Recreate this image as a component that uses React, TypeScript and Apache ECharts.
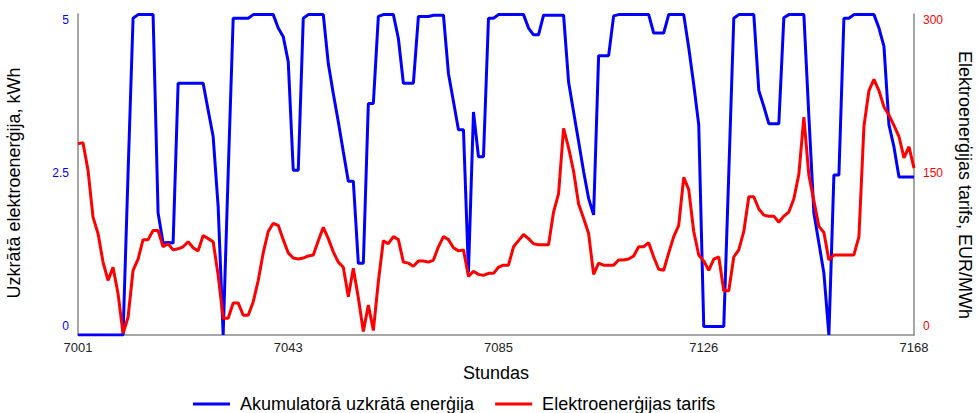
import React, { useEffect, useRef } from "react";
import * as echarts from "echarts";

const startHour = 7001;
const endHour = 7168;
const xTickValues = [7001, 7043, 7085, 7126, 7168];
const leftTickValues = [0, 2.5, 5];
const rightTickValues = [0, 150, 300];

const seriesNames = ["Akumulatorā uzkrātā enerģija", "Elektroenerģijas tarifs"];
const leftTitle = "Uzkrātā elektroenerģija, kWh";
const rightTitle = "Elektroenerģijas tarifs, EUR/MWh";
const xTitle = "Stundas";

// Stored battery energy, kWh (hours 7001..7168)
const storedEnergy = [
  -0.14, -0.14, -0.14, -0.14, -0.14, -0.14, -0.14, -0.14, -0.14, -0.14, 2.5, 5.03,
  5.09, 5.09, 5.09, 5.09, 1.85, 1.36, 1.37, 1.36, 3.97, 3.97, 3.97, 3.97,
  3.97, 3.97, 3.53, 3.1, 1.95, -0.14, 2.5, 5.03, 5.03, 5.03, 5.03, 5.09,
  5.09, 5.09, 5.09, 5.09, 4.87, 4.73, 4.32, 2.55, 2.55, 5.03, 5.09, 5.09,
  5.09, 5.09, 4.29, 3.8, 3.34, 2.85, 2.37, 2.37, 1.03, 1.03, 3.64, 3.64,
  5.06, 5.09, 5.09, 5.09, 4.7, 3.97, 3.97, 3.97, 5.06, 5.06, 5.06, 5.08,
  5.08, 5.08, 4.13, 3.67, 3.21, 3.21, 0.89, 3.5, 2.77, 2.77, 5.03, 5.03,
  5.09, 5.09, 5.09, 5.09, 5.09, 5.09, 4.87, 4.76, 4.76, 5.08, 5.08, 5.08,
  5.08, 5.08, 3.99, 3.5, 3.02, 2.53, 2.09, 1.82, 4.42, 4.42, 4.42, 5.07,
  5.09, 5.09, 5.09, 5.09, 5.09, 5.09, 5.09, 4.79, 4.79, 4.79, 5.09, 5.09,
  5.09, 5.09, 4.55, 3.95, 3.29, 0, 0, 0, 0, 0, 2.5, 5.03,
  5.09, 5.09, 5.09, 5.09, 3.85, 3.59, 3.31, 3.31, 3.31, 5.04, 5.09, 5.09,
  5.09, 5.09, 3.43, 1.85, 1.36, 0.87, -0.14, 2.47, 2.47, 5.03, 5.03, 5.09,
  5.09, 5.09, 5.09, 5.09, 4.87, 4.57, 3.29, 2.93, 2.44, 2.44, 2.44, 2.44,
];

// Electricity tariff, EUR/MWh
const tariff = [
  179, 180, 153, 107, 91, 63, 45, 58, 32, -7, 9, 55,
  66, 85, 85, 94, 94, 78, 81, 75, 76, 78, 83, 77,
  74, 89, 86, 83, 50, 8, 8, 23, 23, 11, 11, 24,
  45, 72, 93, 101, 99, 85, 72, 67, 66, 67, 69, 70,
  84, 97, 86, 73, 63, 58, 29, 57, 28, -5, 21, -4,
  44, 84, 81, 88, 85, 63, 62, 59, 64, 64, 63, 65,
  78, 88, 85, 77, 74, 75, 49, 54, 51, 50, 52, 52,
  58, 60, 60, 78, 84, 90, 86, 81, 80, 80, 80, 112,
  130, 194, 175, 152, 120, 106, 91, 51, 62, 60, 60, 60,
  65, 65, 66, 69, 78, 78, 82, 68, 56, 55, 72, 88,
  99, 146, 134, 93, 70, 64, 55, 66, 68, 35, 35, 68,
  75, 93, 127, 127, 115, 109, 108, 108, 102, 108, 112, 125,
  149, 205, 148, 123, 98, 92, 65, 70, 70, 70, 70, 70,
  88, 196, 231, 242, 231, 215, 207, 197, 186, 165, 176, 155,
];

const FONT = "'Liberation Sans', Arial, Helvetica, sans-serif";
const AXIS_GRAY = "#8a8a8a";

export default function App() {
  const ref = useRef<HTMLDivElement>(null);

  useEffect(() => {
    if (!ref.current) return;
    const chart = echarts.init(ref.current, undefined, { renderer: "svg" });
    const energyData = storedEnergy.map((v, i) => [startHour + i, v]);
    const tariffData = tariff.map((v, i) => [startHour + i, v]);

    chart.setOption({
      animation: false,
      textStyle: { fontFamily: FONT },
      grid: {
        left: 78,
        right: 63,
        top: 14,
        bottom: 78,
        containLabel: false,
        outerBoundsMode: "none",
      },
      graphic: [
        {
          type: "text",
          x: 14,
          y: 183,
          rotation: Math.PI / 2,
          style: {
            text: leftTitle,
            fontSize: 18,
            fontFamily: FONT,
            fill: "#000",
            textAlign: "center",
            textVerticalAlign: "middle",
          },
        },
        {
          type: "text",
          x: 965,
          y: 185,
          rotation: -Math.PI / 2,
          style: {
            text: rightTitle,
            fontSize: 18,
            fontFamily: FONT,
            fill: "#000",
            textAlign: "center",
            textVerticalAlign: "middle",
          },
        },
      ],
      legend: {
        left: 193,
        top: 395,
        padding: 0,
        icon: "rect",
        itemWidth: 37,
        itemHeight: 3,
        itemGap: 21,
        textStyle: { fontSize: 18, color: "#000", fontFamily: FONT, padding: [0, 0, 0, 5] },
        data: seriesNames,
      },
      xAxis: {
        type: "value",
        min: startHour,
        max: endHour,
        name: xTitle,
        nameLocation: "middle",
        nameGap: 29,
        nameTextStyle: { fontSize: 18, color: "#000", fontFamily: FONT },
        axisLine: { show: true, onZero: false, lineStyle: { color: AXIS_GRAY, width: 1.5 } },
        axisTick: { show: false },
        splitLine: { show: false },
        axisLabel: {
          customValues: xTickValues,
          fontSize: 13,
          color: "#222",
          margin: 6,
          fontFamily: FONT,
          formatter: (v: number) => String(v),
        },
      },
      yAxis: [
        {
          type: "value",
          position: "left",
          min: -0.14,
          max: 5.1,
          axisLine: { show: true, onZero: false, lineStyle: { color: AXIS_GRAY, width: 1.5 } },
          axisTick: { show: false },
          splitLine: { show: false },
          axisLabel: {
            customValues: leftTickValues,
            fontSize: 12,
            color: "#0000ff",
            margin: 9,
            fontFamily: FONT,
          },
        },
        {
          type: "value",
          position: "right",
          min: -8.4,
          max: 306,
          axisLine: { show: true, onZero: false, lineStyle: { color: AXIS_GRAY, width: 1.5 } },
          axisTick: { show: false },
          splitLine: { show: false },
          axisLabel: {
            customValues: rightTickValues,
            fontSize: 12,
            color: "#ff0000",
            margin: 9,
            fontFamily: FONT,
          },
        },
      ],
      series: [
        {
          name: seriesNames[0],
          type: "line",
          yAxisIndex: 0,
          data: energyData,
          symbol: "none",
          lineStyle: { color: "#0000ff", width: 3 },
          itemStyle: { color: "#0000ff" },
          z: 2,
        },
        {
          name: seriesNames[1],
          type: "line",
          yAxisIndex: 1,
          data: tariffData,
          symbol: "none",
          lineStyle: { color: "#ff0000", width: 3 },
          itemStyle: { color: "#ff0000" },
          z: 3,
        },
      ],
    });
    return () => chart.dispose();
  }, []);

  return (
    <div
      ref={ref}
      style={{ position: "absolute", left: 0, top: 0, width: 977, height: 413, background: "#fff" }}
    />
  );
}
